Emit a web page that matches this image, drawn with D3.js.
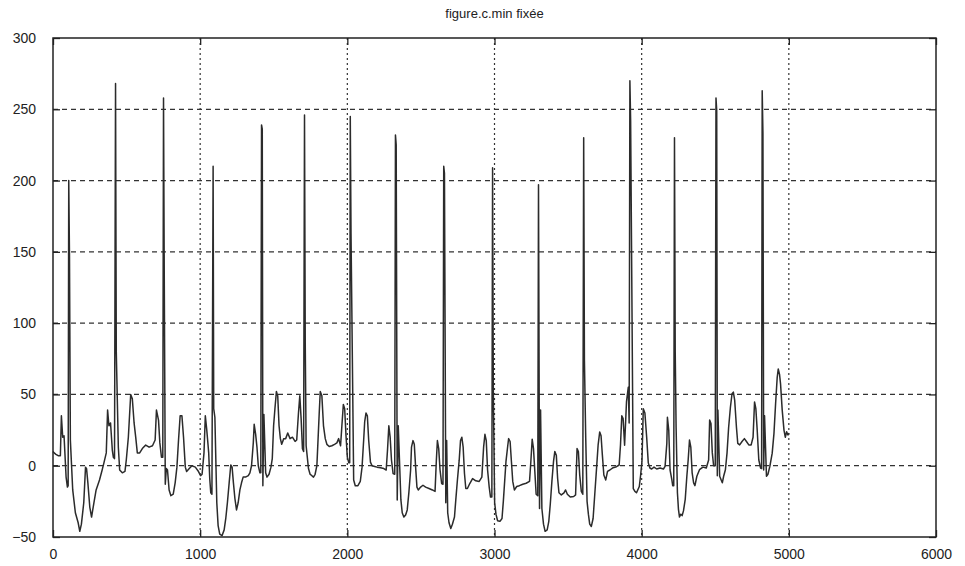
<!DOCTYPE html>
<html>
<head>
<meta charset="utf-8">
<script src="https://cdn.jsdelivr.net/npm/d3@7"></script>
<style>
body { margin: 0; background: #fff; }
</style>
</head>
<body>
<div class="center"></div>
<script>
// chart texts and ticks
var title = "figure.c.min fixée";
var xTicks = [0, 1000, 2000, 3000, 4000, 5000, 6000];
var yTicks = [-50, 0, 50, 100, 150, 200, 250, 300];

// signal: [sample index, value]
var signal = [
  [0,10],[8,9],[20,8],[35,7],[50,7],[57,35],[66,20],[75,21],[89,-8],[98,-15],[103,-14],
  [107,200],[112,147],[118,18],[134,-17],[152,-33],[171,-40],[182,-46],[193,-41],[209,-26],
  [221,-1],[228,-2],[237,-12],[250,-29],[262,-36],[278,-26],[293,-17],[316,-10],[334,-3],
  [346,2],[362,9],[371,39],[380,28],[391,30],[403,11],[410,6],[418,5],
  [425,268],[430,80],[444,13],[453,-3],[471,-5],[489,-4],[498,4],[512,20],[528,50],[539,47],
  [551,30],[562,20],[573,9],[589,9],[607,12],[630,14.5],[653,13],[676,14],[694,18],[703,39],
  [717,32],[726,16],[737,6],[746,6],
  [751,258],[756,133],[763,-13],[770,-2],[778,-3],[789,-17],[801,-21],[817,-20],[830,-12],
  [842,-1],[853,18],[864,35],[876,35],[887,20],[899,-1],[908,-4],[926,-2],[944,0],[967,-1],
  [985,-3.5],[1003,-7],[1013,-6],[1026,9],[1035,35],[1044,26],[1054,14],[1058,9],[1065,-9],
  [1072,-19],[1080,-20],
  [1088,210],[1092,40],[1100,34],[1113,-26],[1122,-42],[1133,-48],[1149,-49],[1163,-45],
  [1174,-37],[1185,-26],[1197,-12],[1208,0.5],[1217,-1],[1226,-12],[1236,-23],[1247,-31],
  [1258,-26],[1270,-17],[1281,-12],[1292,-8],[1308,-8],[1327,-7],[1338,-5],[1349,0],[1361,16],
  [1367,29],[1377,22],[1386,13],[1395,0],[1406,-5],[1412,-5],
  [1417,239],[1422,236],[1426,-14],[1433,36],[1445,-5],[1454,-8],[1468,-6],[1481,-1],[1490,5],
  [1499,28],[1508,40],[1518,52],[1527,49],[1536,28],[1545,19],[1554,15],[1568,19],[1581,19],
  [1595,23],[1611,19],[1627,20],[1645,17],[1656,18],[1668,37],[1677,49],[1686,33],[1695,12],
  [1703,10],
  [1709,246],[1714,86],[1720,14],[1736,-2],[1747,-6],[1759,-7],[1770,-8],[1781,-6],[1793,0],
  [1800,16],[1809,37],[1816,52],[1827,49],[1838,28],[1850,19],[1861,15],[1877,13.5],[1895,14],
  [1913,15],[1929,16],[1941,19],[1954,14],[1963,28],[1973,43],[1982,40],[1991,21],[2000,6],
  [2010,2],[2016,2],
  [2020,245],[2025,163],[2043,-10],[2054,-14],[2072,-14],[2088,-11],[2100,-1],[2111,18],
  [2118,31],[2127,37],[2136,35],[2145,18],[2157,2.5],[2168,0],[2186,-0.5],[2202,-1],
  [2225,-1.4],[2248,-2],[2264,-3],[2273,11],[2282,28],[2291,20],[2300,4],[2311,-5.5],[2322,-6],
  [2327,232],[2332,225],[2339,-24],[2346,28],[2364,-24],[2373,-33],[2384,-36],[2396,-34.5],
  [2407,-31],[2418,-19],[2430,-3],[2436,13],[2446,17.6],[2455,15],[2464,-1],[2473,-15],
  [2482,-17],[2498,-15],[2514,-13.7],[2532,-15],[2555,-16],[2578,-17],[2596,-18],[2605,4],
  [2612,17.6],[2621,12],[2630,-3],[2641,-12.5],[2650,-13],
  [2655,210],[2660,205],[2669,-26],[2675,17.6],[2682,-33],[2691,-40],[2703,-44],[2714,-41],
  [2728,-36],[2737,-24],[2748,-10],[2760,3.7],[2769,17.6],[2778,20],[2787,13],[2796,-5.5],
  [2805,-16],[2816,-16],[2832,-12.5],[2851,-9],[2873,-10.6],[2896,-11],[2914,-8],[2926,13],
  [2935,22],[2944,17.6],[2953,-3],[2964,-15],[2973,-22],[2982,-22],
  [2987,209],[2992,52],[3001,-26],[3010,-34],[3021,-38.6],[3037,-39],[3051,-37],[3060,-25],
  [3069,-11],[3078,3],[3090,14],[3096,19],[3106,17],[3115,3],[3124,-11],[3135,-17],
  [3151,-14.6],[3169,-14],[3192,-13],[3215,-12.3],[3238,-11],[3247,3],[3256,18.6],[3265,12],
  [3274,-4],[3283,-20],[3294,-21],
  [3299,197],[3306,-30],[3313,39],[3322,-30],[3333,-41],[3344,-46],[3358,-45],[3369,-39],
  [3379,-27],[3390,-11],[3401,3],[3410,10],[3420,7.4],[3429,-9],[3438,-19],[3454,-20.5],
  [3472,-19],[3483,-17],[3495,-20],[3515,-22],[3538,-21.6],[3551,-20.5],[3561,12],[3570,10],
  [3579,-6.5],[3590,-18],[3600,-20],
  [3606,230],[3611,74],[3620,19],[3629,-25],[3638,-34],[3647,-41],[3658,-42.6],[3670,-37],
  [3681,-20.5],[3692,-4],[3704,14.4],[3715,23.7],[3724,21],[3733,7.4],[3743,-6.5],[3756,-10],
  [3768,-4],[3784,-3],[3806,-1.4],[3829,-0.7],[3847,0.5],[3856,14.4],[3865,35],[3874,33],
  [3884,14.4],[3897,45],[3909,55],[3915,30],
  [3920,270],[3925,242],[3943,-16],[3954,-18],[3965,-19],[3984,-14.6],[3993,-6.5],[4002,3],
  [4011,40],[4022,37],[4034,20],[4045,2],[4056,-1.6],[4068,-2.3],[4084,-1],[4102,-2.3],
  [4125,-1.6],[4148,-2.3],[4159,-0.5],[4171,15.7],[4175,34],[4184,25],[4193,-3],[4205,-9.7],
  [4211,-14],[4218,-14],
  [4223,230],[4228,80],[4234,27],[4243,-19],[4250,-30.6],[4257,-36],[4266,-34],[4275,-35],
  [4284,-31.7],[4296,-23.6],[4307,-7.4],[4316,4],[4325,18],[4334,13],[4343,-5],[4353,-12],
  [4362,-14],[4375,-7.4],[4393,-2.8],[4416,-1],[4439,-1.6],[4455,4],[4462,32],[4471,29.6],
  [4480,9],[4489,0],[4500,0],
  [4505,258],[4510,249],[4514,-7],[4518,39],[4530,-7.4],[4539,-9.7],[4548,-12],[4557,-7.4],
  [4569,-2.8],[4580,8.8],[4591,27],[4603,41],[4614,50.5],[4623,51.6],[4632,46],[4644,27],
  [4653,15.7],[4666,14.6],[4682,17],[4698,19],[4712,17],[4728,14.6],[4744,14.6],[4757,20],
  [4767,44.7],[4776,40],[4785,25],[4796,4],[4808,-1.6],[4815,-2],
  [4819,263],[4824,233],[4829,-3],[4835,35],[4848,-7.4],[4858,-6],[4871,-0.5],[4887,8.8],
  [4899,22.7],[4910,43.5],[4921,62],[4928,67.8],[4937,64],[4944,57],[4955,39],[4967,25],
  [4976,20],[4985,23.8],[4994,21.5],[5000,23]
];

// canvas size and margins
var margin = {top: 38, right: 29, bottom: 29, left: 53},
    width = 965 - margin.left - margin.right,
    height = 566 - margin.top - margin.bottom;

var x = d3.scaleLinear().domain([0, 6000]).range([0, width]);
var y = d3.scaleLinear().domain([-50, 300]).range([height, 0]);

var svg = d3.select(".center").append("svg")
    .attr("width", width + margin.left + margin.right)
    .attr("height", height + margin.top + margin.bottom)
    .style("font-family", "'Liberation Sans', Arial, sans-serif")
  .append("g")
    .attr("transform", "translate(" + margin.left + "," + margin.top + ")");

// grid lines
svg.selectAll(".hgrid")
    .data(yTicks.slice(1, -1))
  .enter().append("line")
    .attr("x1", 0).attr("x2", width)
    .attr("y1", function(d) { return y(d); })
    .attr("y2", function(d) { return y(d); })
    .style("stroke", "#333")
    .style("stroke-width", 1.2)
    .style("stroke-dasharray", "5,4");

svg.selectAll(".vgrid")
    .data(xTicks.slice(1, -1))
  .enter().append("line")
    .attr("y1", 0).attr("y2", height)
    .attr("x1", function(d) { return x(d); })
    .attr("x2", function(d) { return x(d); })
    .style("stroke", "#333")
    .style("stroke-width", 1.2)
    .style("stroke-dasharray", "2,3");

// the signal
var line = d3.line()
    .x(function(d) { return x(d[0]); })
    .y(function(d) { return y(d[1]); });

svg.append("path")
    .datum(signal)
    .attr("d", line)
    .style("fill", "none")
    .style("stroke", "#2b2b2b")
    .style("stroke-width", 1.5)
    .style("stroke-linejoin", "round");

// axes, matlab style: ticks inward on all four sides
var tick = 7;
svg.append("g")
    .attr("transform", "translate(0," + height + ")")
    .call(d3.axisBottom(x).tickValues(xTicks).tickFormat(d3.format("d"))
      .tickSizeInner(-tick).tickSizeOuter(0).tickPadding(12));
svg.append("g")
    .call(d3.axisTop(x).tickValues(xTicks).tickSizeInner(-tick).tickSizeOuter(0).tickFormat(""));
svg.append("g")
    .call(d3.axisLeft(y).tickValues(yTicks).tickFormat(d3.format("d"))
      .tickSizeInner(-tick).tickSizeOuter(0).tickPadding(17));
svg.append("g")
    .attr("transform", "translate(" + width + ",0)")
    .call(d3.axisRight(y).tickValues(yTicks).tickSizeInner(-tick).tickSizeOuter(0).tickFormat(""));

svg.selectAll(".domain").remove();
svg.selectAll(".tick line").style("stroke", "#222").style("stroke-width", 1.3);
svg.selectAll(".tick text")
    .style("font-size", "14px")
    .style("font-family", "'Liberation Sans', Arial, sans-serif")
    .style("fill", "#222");

svg.append("rect")
    .attr("width", width)
    .attr("height", height)
    .style("fill", "none")
    .style("stroke", "#222")
    .style("stroke-width", 1.5);

svg.append("text")
    .attr("x", width / 2)
    .attr("y", -20)
    .attr("text-anchor", "middle")
    .style("font-size", "13px")
    .style("fill", "#222")
    .text(title);
</script>
</body>
</html>
